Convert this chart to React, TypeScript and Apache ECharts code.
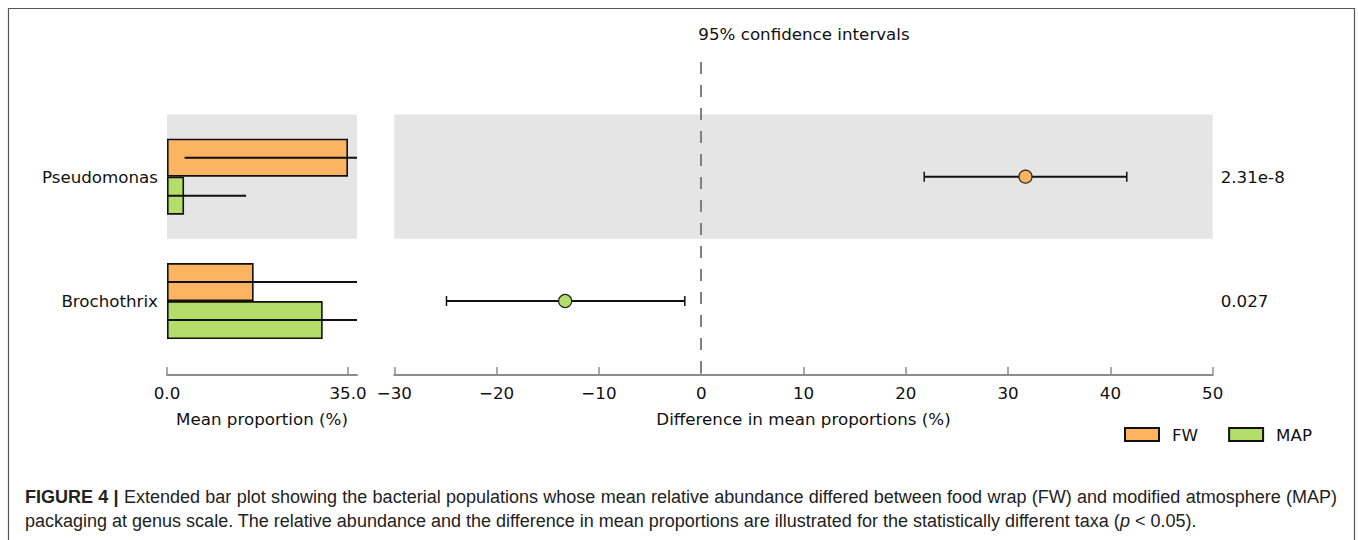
import React, { useEffect, useRef } from 'react';
import * as echarts from 'echarts';

// ---------- data ----------
const taxa = ['Pseudomonas', 'Brochothrix'];
const groups = ['FW', 'MAP'];
const fwMean = [35.0, 16.75];
const fwStd = [31.6, 22.0];
const mapMean = [3.3, 30.1];
const mapStd = [12.0, 32.0];
const diffMean = [31.7, -13.3];
const ciLow = [21.8, -24.9];
const ciHigh = [41.6, -1.6];
const pValues = ['2.31e-8', '0.027'];
const leftTicks = [0, 35];
const title = '95% confidence intervals';
const leftAxisName = 'Mean proportion (%)';
const rightAxisName = 'Difference in mean proportions (%)';
const captionBold = 'FIGURE 4 |';
const captionLine1 =
  'Extended bar plot showing the bacterial populations whose mean relative abundance differed between food wrap (FW) and modified atmosphere (MAP)';
const captionLine2 =
  'packaging at genus scale. The relative abundance and the difference in mean proportions are illustrated for the statistically different taxa (';
const captionItalic = 'p';
const captionEnd = ' < 0.05).';

// ---------- style ----------
const groupColors = ['#FDB462', '#B3DE69'];
const FONT = 'DejaVu Sans';
const FS = 16.7;
const CAP_FONT = 'Liberation Sans';
const CAP_FS = 18;
const TXT = '#111';
const BAND = '#e5e5e5';
const AXIS = '#8c8c8c';

const LEFT_MAX = 36.74;
const DIFF_MIN = -30;
const DIFF_MAX = 50;
const Y_MIN = -0.922;
const Y_MAX = 1.595;
const BAR_W = 38;

function buildCaption(): any[] {
  const canvas = document.createElement('canvas');
  const ctx = canvas.getContext('2d') as CanvasRenderingContext2D;
  const normal = `${CAP_FS}px "${CAP_FONT}"`;
  const bold = `bold ${CAP_FS}px "${CAP_FONT}"`;
  const italic = `italic ${CAP_FS}px "${CAP_FONT}"`;
  const left = 25;
  const right = 1337;
  const y1 = 497;
  const y2 = 521;
  // line 1: justified
  const words: { t: string; f: string }[] = [
    ...captionBold.split(' ').map((t) => ({ t, f: bold })),
    ...captionLine1.split(' ').map((t) => ({ t, f: normal })),
  ];
  const widths = words.map((w) => {
    ctx.font = w.f;
    return ctx.measureText(w.t).width;
  });
  const total = widths.reduce((a, b) => a + b, 0);
  const gap = (right - left - total) / (words.length - 1);
  const out: any[] = [];
  let x = left;
  words.forEach((w, i) => {
    out.push({
      type: 'text',
      x,
      y: y1,
      silent: true,
      style: { text: w.t, font: w.f, fill: '#222', verticalAlign: 'middle' },
    });
    x += widths[i] + gap;
  });
  // line 2: left aligned (last line)
  out.push({
    type: 'text',
    x: left,
    y: y2,
    silent: true,
    style: {
      text: captionLine2 + '{i|' + captionItalic + '}' + captionEnd,
      font: normal,
      fill: '#222',
      verticalAlign: 'middle',
      rich: { i: { font: italic, fill: '#222' } },
    },
  });
  return out;
}

export default function App() {
  const ref = useRef<HTMLDivElement>(null);

  useEffect(() => {
    document.body.style.margin = '0';
    if (!ref.current) return;
    const chart = echarts.init(ref.current, null, { renderer: 'svg' });

    const means = [fwMean, mapMean];
    const stds = [fwStd, mapStd];
    const errData: number[][] = [];
    groups.forEach((_, g) => {
      taxa.forEach((_, i) => {
        errData.push([means[g][i] - stds[g][i], means[g][i] + stds[g][i], i, g]);
      });
    });

    const ciData = taxa.map((_, i) => [ciLow[i], ciHigh[i], i]);
    const ptData = taxa.map((_, i) => ({
      value: [diffMean[i], i],
      itemStyle: { color: diffMean[i] >= 0 ? groupColors[0] : groupColors[1] },
    }));
    const bands = taxa
      .map((_, i) => i)
      .filter((i) => i % 2 === 0)
      .map((i) => [{ yAxis: i - 0.5 }, { yAxis: i + 0.5 }]);

    const txt = { fontFamily: FONT, fontSize: FS, color: TXT };

    const option: any = {
      animation: false,
      backgroundColor: '#fff',
      textStyle: { fontFamily: FONT },
      title: {
        text: title,
        left: 799,
        top: 20,
        textAlign: 'center',
        textStyle: { ...txt, fontWeight: 'normal' },
      },
      legend: {
        data: groups,
        left: 1119,
        top: 421,
        icon: 'rect',
        itemWidth: 34,
        itemHeight: 13,
        itemGap: 30,
        textStyle: { ...txt, padding: [0, 0, 0, 8] },
      },
      grid: [
        { left: 167, width: 190, top: 114.5, height: 248.7 },
        { left: 394.3, width: 818.4, top: 62, height: 313 },
      ],
      xAxis: [
        {
          type: 'value',
          gridIndex: 0,
          min: 0,
          max: LEFT_MAX,
          offset: 11.8,
          name: leftAxisName,
          nameLocation: 'middle',
          nameGap: 35,
          nameTextStyle: txt,
          axisLine: { show: true, onZero: false, lineStyle: { color: AXIS, width: 2 } },
          axisTick: { show: true, inside: true, length: 8, customValues: leftTicks, lineStyle: { color: AXIS, width: 1.5 } },
          axisLabel: {
            customValues: leftTicks,
            formatter: (v: number) => v.toFixed(1),
            margin: 9,
            ...txt,
          },
          splitLine: { show: false },
        },
        {
          type: 'value',
          gridIndex: 1,
          min: DIFF_MIN,
          max: DIFF_MAX,
          interval: 10,
          name: rightAxisName,
          nameLocation: 'middle',
          nameGap: 35,
          nameTextStyle: txt,
          axisLine: { show: true, onZero: false, lineStyle: { color: AXIS, width: 2 } },
          axisTick: { show: true, inside: true, length: 8, lineStyle: { color: AXIS, width: 1.5 } },
          axisLabel: {
            formatter: (v: number) => (v < 0 ? '\u2212' + Math.abs(v) : String(v)),
            margin: 9,
            ...txt,
          },
          splitLine: { show: false },
        },
      ],
      yAxis: [
        {
          type: 'category',
          gridIndex: 0,
          data: taxa,
          inverse: true,
          axisLine: { show: false },
          axisTick: { show: false },
          axisLabel: { margin: 9, ...txt },
          splitArea: { show: true, areaStyle: { color: [BAND, 'rgba(255,255,255,0)'] } },
        },
        {
          type: 'value',
          gridIndex: 1,
          min: Y_MIN,
          max: Y_MAX,
          inverse: true,
          show: false,
          axisLine: { show: false, onZero: false },
          axisTick: { show: false },
          axisLabel: { show: false },
          splitLine: { show: false },
        },
        {
          type: 'value',
          gridIndex: 1,
          min: Y_MIN,
          max: Y_MAX,
          inverse: true,
          position: 'right',
          axisLine: { show: false, onZero: false },
          axisTick: { show: false },
          splitLine: { show: false },
          axisLabel: {
            customValues: taxa.map((_, i) => i),
            formatter: (v: number) => pValues[Math.round(v)] ?? '',
            margin: 8,
            ...txt,
          },
        },
      ],
      series: [
        ...groups.map((g, gi) => ({
          name: g,
          type: 'bar',
          xAxisIndex: 0,
          yAxisIndex: 0,
          data: means[gi],
          barWidth: BAR_W,
          barGap: '0%',
          itemStyle: { color: groupColors[gi], borderColor: '#111', borderWidth: 1.6 },
          z: 2,
        })),
        {
          name: 'err',
          type: 'custom',
          xAxisIndex: 0,
          yAxisIndex: 0,
          data: errData,
          encode: { x: [0, 1], y: 2 },
          z: 5,
          renderItem: (params: any, api: any) => {
            const lo = Math.max(0, api.value(0));
            const hi = Math.min(LEFT_MAX, api.value(1));
            const c = api.value(2);
            const g = api.value(3);
            const off = (g - 0.5) * BAR_W;
            const p1 = api.coord([lo, c]);
            const p2 = api.coord([hi, c]);
            return {
              type: 'line',
              shape: { x1: p1[0], y1: p1[1] + off, x2: p2[0], y2: p2[1] + off },
              style: { stroke: '#111', lineWidth: 2 },
            };
          },
        },
        {
          name: 'ci',
          type: 'custom',
          xAxisIndex: 1,
          yAxisIndex: 1,
          data: ciData,
          encode: { x: [0, 1], y: 2 },
          z: 5,
          renderItem: (params: any, api: any) => {
            const y = api.value(2);
            const p1 = api.coord([api.value(0), y]);
            const p2 = api.coord([api.value(1), y]);
            const cap = 5;
            const st = { stroke: '#111', lineWidth: 2 };
            return {
              type: 'group',
              children: [
                { type: 'line', shape: { x1: p1[0], y1: p1[1], x2: p2[0], y2: p2[1] }, style: st },
                { type: 'line', shape: { x1: p1[0], y1: p1[1] - cap, x2: p1[0], y2: p1[1] + cap }, style: { stroke: '#111', lineWidth: 1.5 } },
                { type: 'line', shape: { x1: p2[0], y1: p2[1] - cap, x2: p2[0], y2: p2[1] + cap }, style: { stroke: '#111', lineWidth: 1.5 } },
              ],
            };
          },
          markArea: {
            silent: true,
            label: { show: false },
            itemStyle: { color: BAND },
            data: bands,
          },
        },
        {
          name: 'diff',
          type: 'scatter',
          xAxisIndex: 1,
          yAxisIndex: 1,
          data: ptData,
          symbolSize: 13,
          itemStyle: { borderColor: '#222', borderWidth: 1.2, opacity: 1 },
          z: 6,
          markLine: {
            silent: true,
            symbol: 'none',
            label: { show: false },
            lineStyle: { type: [12, 11], color: '#808080', width: 2 },
            data: [{ xAxis: 0 }],
          },
        },
      ],
      graphic: [
        {
          type: 'rect',
          shape: { x: 8.5, y: 8.5, width: 1346, height: 600 },
          style: { fill: 'none', stroke: '#555', lineWidth: 1.2 },
          silent: true,
        },
        ...buildCaption(),
      ],
    };

    chart.setOption(option);
    return () => chart.dispose();
  }, []);

  return <div ref={ref} style={{ width: 1358, height: 540 }} />;
}
